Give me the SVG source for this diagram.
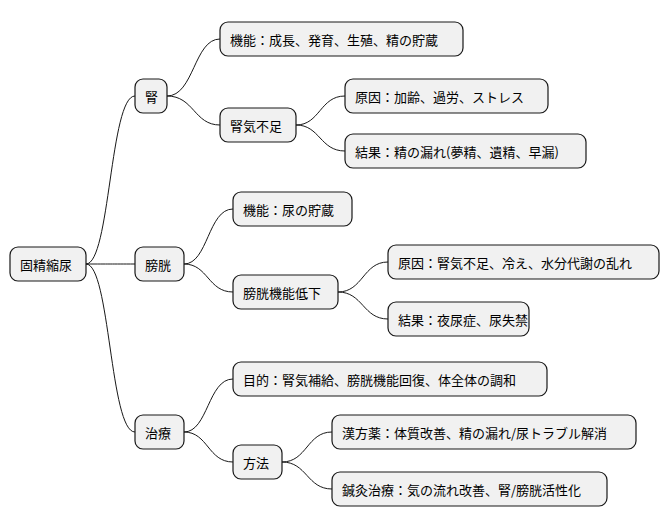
<svg xmlns="http://www.w3.org/2000/svg" width="670" height="527" viewBox="0 0 670 527">
<style>
.n rect{fill:#f1f1f1;stroke:#181818;stroke-width:1.2}
.n text{font-family:"Noto Sans CJK JP","Noto Sans CJK SC",sans-serif;font-size:13px;fill:#000;dominant-baseline:central}
#c path{fill:none;stroke:#181818;stroke-width:1}
</style>
<rect width="670" height="527" fill="#fff"/>
<g id="c">
<path d="M86,264 C110,264 110,96 135,96"/>
<path d="M86,264 C110,264 110,264 135,264"/>
<path d="M86,264 C110,264 110,432 135,432"/>
<path d="M167,96 C194,96 194,39 220,39"/>
<path d="M167,96 C194,96 194,125 220,125"/>
<path d="M296,125 C320,125 320,96 345,96"/>
<path d="M296,125 C320,125 320,151 345,151"/>
<path d="M184,264 C208,264 208,209 233,209"/>
<path d="M184,264 C208,264 208,292 233,292"/>
<path d="M338,292 C363,292 363,262 388,262"/>
<path d="M338,292 C363,292 363,319 388,319"/>
<path d="M184,432 C208,432 208,379 233,379"/>
<path d="M184,432 C208,432 208,462 233,462"/>
<path d="M282,462 C307,462 307,432 332,432"/>
<path d="M282,462 C307,462 307,489 332,489"/>
</g>
<g id="root" class="n"><rect x="10" y="247" width="76" height="34" rx="8"/><text x="20" y="264">固精縮尿</text></g>
<g id="jin" class="n"><rect x="135" y="79" width="32" height="34" rx="8"/><text x="145" y="96">腎</text></g>
<g id="jin1" class="n"><rect x="220" y="22" width="243" height="34" rx="8"/><text x="230" y="39">機能：成長、発育、生殖、精の貯蔵</text></g>
<g id="jin2" class="n"><rect x="220" y="108" width="76" height="34" rx="8"/><text x="230" y="125">腎気不足</text></g>
<g id="jin2a" class="n"><rect x="345" y="79" width="203" height="34" rx="8"/><text x="355" y="96">原因：加齢、過労、ストレス</text></g>
<g id="jin2b" class="n"><rect x="345" y="134" width="241" height="34" rx="8"/><text x="355" y="151">結果：精の漏れ(夢精、遺精、早漏)</text></g>
<g id="bou" class="n"><rect x="135" y="247" width="49" height="34" rx="8"/><text x="145" y="264">膀胱</text></g>
<g id="bou1" class="n"><rect x="233" y="192" width="119" height="34" rx="8"/><text x="243" y="209">機能：尿の貯蔵</text></g>
<g id="bou2" class="n"><rect x="233" y="275" width="105" height="34" rx="8"/><text x="243" y="292">膀胱機能低下</text></g>
<g id="bou2a" class="n"><rect x="388" y="245" width="271" height="34" rx="8"/><text x="398" y="262">原因：腎気不足、冷え、水分代謝の乱れ</text></g>
<g id="bou2b" class="n"><rect x="388" y="302" width="141" height="34" rx="8"/><text x="398" y="319">結果：夜尿症、尿失禁</text></g>
<g id="chi" class="n"><rect x="135" y="415" width="49" height="34" rx="8"/><text x="145" y="432">治療</text></g>
<g id="chi1" class="n"><rect x="233" y="362" width="314" height="34" rx="8"/><text x="243" y="379">目的：腎気補給、膀胱機能回復、体全体の調和</text></g>
<g id="chi2" class="n"><rect x="233" y="445" width="49" height="34" rx="8"/><text x="243" y="462">方法</text></g>
<g id="chi2a" class="n"><rect x="332" y="415" width="304" height="34" rx="8"/><text x="342" y="432">漢方薬：体質改善、精の漏れ/尿トラブル解消</text></g>
<g id="chi2b" class="n"><rect x="332" y="472" width="275" height="34" rx="8"/><text x="342" y="489">鍼灸治療：気の流れ改善、腎/膀胱活性化</text></g>
</svg>
